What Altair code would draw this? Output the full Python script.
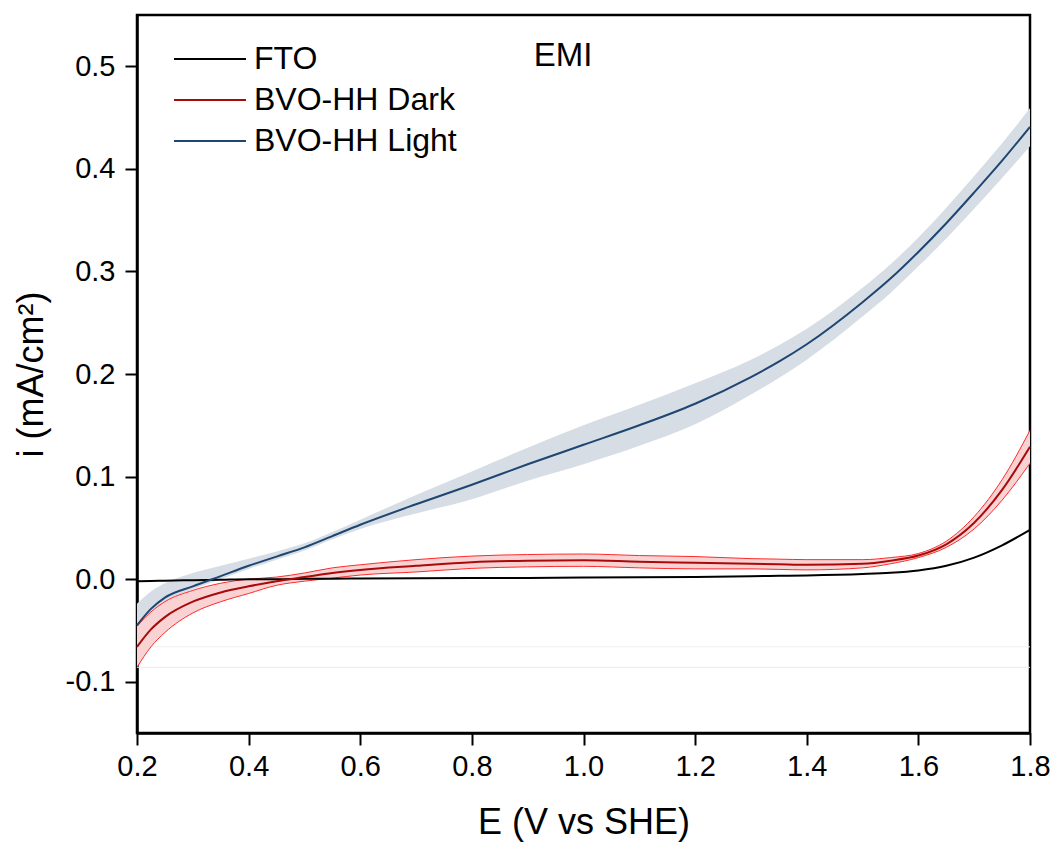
import altair as alt
import pandas as pd

# Potential grid (V vs SHE)
E = [0.2, 0.225, 0.25, 0.3, 0.35, 0.4, 0.45, 0.5, 0.55, 0.6, 0.7, 0.8, 0.9, 1.0,
     1.1, 1.2, 1.3, 1.35, 1.4, 1.5, 1.55, 1.6, 1.65, 1.7, 1.75, 1.8]

fto = [-0.002, -0.0018, -0.0015, -0.001, -0.0005, 0.0, 0.0, 0.0003, 0.0005, 0.0006,
       0.0008, 0.001, 0.0012, 0.0015, 0.0018, 0.0022, 0.0028, 0.0032, 0.0036, 0.005, 0.0062,
       0.0085, 0.013, 0.021, 0.033, 0.048]

dark = [-0.066, -0.049, -0.037, -0.022, -0.013, -0.007, -0.002, 0.002, 0.006, 0.009,
        0.013, 0.0165, 0.018, 0.0185, 0.017, 0.016, 0.015, 0.0145, 0.014, 0.015, 0.018,
        0.023, 0.034, 0.055, 0.087, 0.129]
dark_hw = [0.020, 0.017, 0.015, 0.011, 0.009, 0.007, 0.004, 0.004, 0.005, 0.005,
           0.006, 0.006, 0.006, 0.006, 0.006, 0.006, 0.005, 0.005, 0.005, 0.004, 0.003,
           0.002, 0.003, 0.006, 0.010, 0.016]

light = [-0.045, -0.029, -0.018, -0.007, 0.003, 0.013, 0.022, 0.031, 0.042, 0.053,
         0.073, 0.092, 0.112, 0.131, 0.150, 0.171, 0.197, 0.212, 0.229, 0.270, 0.293,
         0.319, 0.347, 0.377, 0.408, 0.441]
light_lo = [-0.047, -0.033, -0.022, -0.010, 0.000, 0.010, 0.019, 0.028, 0.039, 0.049,
            0.064, 0.078, 0.096, 0.112, 0.130, 0.151, 0.180, 0.196, 0.214, 0.256, 0.279,
            0.305, 0.332, 0.361, 0.391, 0.422]
light_hi = [-0.024, -0.012, -0.004, 0.006, 0.013, 0.020, 0.027, 0.035, 0.046, 0.058,
            0.082, 0.105, 0.128, 0.150, 0.170, 0.191, 0.214, 0.228, 0.244, 0.284, 0.307,
            0.333, 0.362, 0.393, 0.425, 0.459]

series_names = ["FTO", "BVO-HH Dark", "BVO-HH Light"]
series_colors = ["#000000", "#a80a0a", "#1f4670"]
x_ticks = [0.2, 0.4, 0.6, 0.8, 1.0, 1.2, 1.4, 1.6, 1.8]
y_ticks = [-0.1, 0.0, 0.1, 0.2, 0.3, 0.4, 0.5]

FONT = "Liberation Sans"

rows = []
for name, vals in zip(series_names, [fto, dark, light]):
    for e, v in zip(E, vals):
        rows.append({"E": e, "i": v, "series": name})
lines_df = pd.DataFrame(rows)

band_df = pd.DataFrame({
    "E": E,
    "dark_lo": [d - h for d, h in zip(dark, dark_hw)],
    "dark_hi": [d + h for d, h in zip(dark, dark_hw)],
    "light_lo": light_lo,
    "light_hi": light_hi,
})

base_lines_df = pd.DataFrame({"i": [band_df["dark_lo"][0], dark[0]],
                              "c": ["#fbe3e6", "#f4eeee"]})

xscale = alt.Scale(domain=[0.2, 1.8], nice=False, zero=False)
yscale = alt.Scale(domain=[-0.15, 0.55], nice=False, zero=False)

xax = alt.Axis(values=x_ticks, format=".1f", title="E (V vs SHE)", labelFlush=False)
yax = alt.Axis(values=y_ticks, title="i (mA/cm²)", labelFlush=False,
               labelExpr="datum.value < 0 ? '-' + format(-datum.value, '.1f') : format(datum.value, '.1f')")

X = alt.X("E:Q", scale=xscale, axis=xax)

faint = alt.Chart(base_lines_df).mark_rule(strokeWidth=1).encode(
    y=alt.Y("i:Q", scale=yscale, axis=yax),
    stroke=alt.Stroke("c:N", scale=None, legend=None),
)

light_band = alt.Chart(band_df).mark_area(color="#d6dde5", interpolate="monotone").encode(
    x=X, y=alt.Y("light_lo:Q", scale=yscale, axis=yax), y2="light_hi:Q")

dark_band = alt.Chart(band_df).mark_area(color="#f9d3d4", interpolate="monotone").encode(
    x=X, y=alt.Y("dark_lo:Q", scale=yscale, axis=yax), y2="dark_hi:Q")

dark_lo_line = alt.Chart(band_df).mark_line(color="#ff2a2a", strokeWidth=1, interpolate="monotone").encode(
    x=X, y=alt.Y("dark_lo:Q", scale=yscale, axis=yax))
dark_hi_line = alt.Chart(band_df).mark_line(color="#ff2a2a", strokeWidth=1, interpolate="monotone").encode(
    x=X, y=alt.Y("dark_hi:Q", scale=yscale, axis=yax))

main_lines = alt.Chart(lines_df).mark_line(strokeWidth=2, interpolate="monotone").encode(
    x=X,
    y=alt.Y("i:Q", scale=yscale, axis=yax),
    color=alt.Color("series:N", sort=series_names,
                    scale=alt.Scale(domain=series_names, range=series_colors),
                    legend=alt.Legend(title=None, orient="none", legendX=57, legendY=28,
                                      symbolType="M-3,0H3", symbolSize=576,
                                      symbolStrokeWidth=2, labelOffset=28,
                                      labelFontSize=32, labelFont=FONT, labelColor="black",
                                      rowPadding=9, padding=0, labelLimit=400)),
)

emi = alt.Chart(pd.DataFrame({"t": ["EMI"]})).mark_text(
    font=FONT, fontSize=33, color="black", align="center", baseline="middle"
).encode(x=alt.value(426), y=alt.value(41), text="t:N")

chart = alt.layer(faint, light_band, dark_band, dark_lo_line, dark_hi_line, main_lines, emi).properties(
    width=893, height=718,
    autosize=alt.AutoSizeParams(type="none"),
    padding={"left": 137, "top": 15, "right": 26, "bottom": 112},
).configure_view(
    stroke="black", strokeWidth=2.5
).configure_axis(
    grid=False, domainColor="black", domainWidth=2.5, tickColor="black", tickWidth=2,
    tickSize=12, labelFont=FONT, labelFontSize=29, labelColor="black",
    titleFont=FONT, titleFontSize=36, titleColor="black", titleFontWeight="normal",
).configure_axisX(
    labelPadding=7, titlePadding=24
).configure_axisY(
    labelPadding=10, titlePadding=15
)

chart.save("out.html", embed_options={"renderer": "svg", "actions": False})
